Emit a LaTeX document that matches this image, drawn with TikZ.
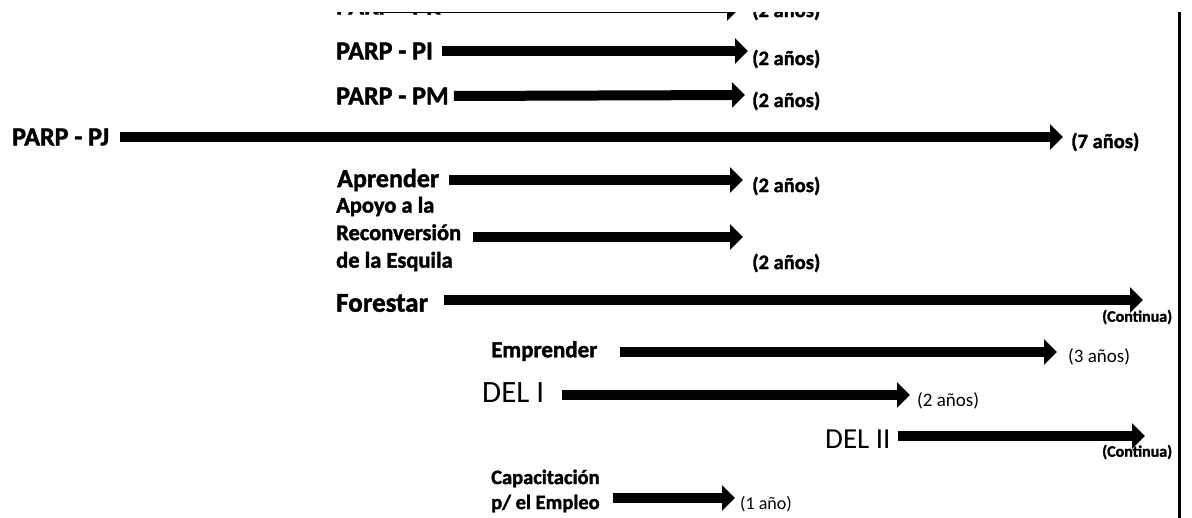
\documentclass[tikz,border=0pt]{standalone}
\usepackage{fontspec}
\setmainfont{Carlito}[BoldFeatures={FakeBold=1.6}]
\usetikzlibrary{arrows.meta}
\begin{document}
\begin{tikzpicture}[x=1pt,y=-1pt,
  arr/.style={line width=10pt,-{Triangle[length=13pt,width=25pt]}},
  lab/.style={anchor=west,inner sep=0pt,font=\fontsize{26}{27}\selectfont\bfseries},
  labm/.style={anchor=west,inner sep=0pt,align=left,font=\fontsize{22.5}{27.5}\selectfont\bfseries},
  labr/.style={anchor=west,inner sep=0pt,font=\fontsize{29}{29}\selectfont},
  dur/.style={anchor=west,inner sep=0pt,font=\fontsize{20.5}{20.5}\selectfont\bfseries},
  durr/.style={anchor=west,inner sep=0pt,font=\fontsize{19}{19}\selectfont},
  cont/.style={anchor=west,inner sep=0pt,font=\fontsize{16}{16}\selectfont\bfseries}]
\useasboundingbox (0,0) rectangle (1192,518);
\fill[white] (0,0) rectangle (1192,518);
\begin{scope}
\clip (0,13) rectangle (1192,518);
% top (cropped) row
\node[lab] (l0) at (336,6) {PARP - PR};
\coordinate (t0) at (740,8);
\draw[arr] (376,8) -- (t0);
\node[dur] (d0) at (752,11) {(2 años)};
\end{scope}
% PARP - PI
\node[lab] (l1) at (336,51) {PARP - PI};
\coordinate (t1) at (748,51);
\draw[arr] (l1.east) ++(9,0) -- (t1);
\node[dur] (d1) at (752,59) {(2 años)};
% PARP - PM
\node[lab] (l2) at (336,96) {PARP - PM};
\coordinate (t2) at (745,95);
\draw[arr] (l2.east) ++(5,0) -- (t2);
\node[dur] (d2) at (752,101) {(2 años)};
% PARP - PJ
\node[lab] (l3) at (12,137) {PARP - PJ};
\coordinate (t3) at (1063,137);
\draw[arr] (l3.east) ++(11,0) -- (t3);
\node[dur] (d3) at (1071,142) {(7 años)};
% Aprender
\node[lab] (l4) at (337,180) {Aprender};
\coordinate (t4) at (743,180);
\draw[arr] (l4.east) ++(10,0) -- (t4);
\node[dur] (d4) at (752,186) {(2 años)};
% Apoyo a la Reconversion
\node[labm] (l5) at (336,234) {Apoyo a la\\Reconversión\\de la Esquila};
\coordinate (s5) at (473,237);
\coordinate (t5) at (743,237);
\draw[arr] (s5) -- (t5);
\node[dur] (d5) at (752,263) {(2 años)};
% Forestar
\node[labr,font=\fontsize{27}{27}\selectfont\bfseries] (l6) at (336,303) {Forestar};
\coordinate (t6) at (1143,300);
\draw[arr] (l6.east) ++(16,-3) -- (t6);
\node[cont] (d6) at (1102,317) {(Continua)};
% Emprender
\node[lab,font=\fontsize{23}{23}\selectfont\bfseries] (l7) at (491,351) {Emprender};
\coordinate (t7) at (1057,352);
\draw[arr] (l7.east) ++(22,1) -- (t7);
\node[durr] (d7) at (1068,357) {(3 años)};
% DEL I
\node[labr,font=\fontsize{31}{31}\selectfont] (l8) at (482,393) {DEL I};
\coordinate (t8) at (910,395);
\draw[arr] (l8.east) ++(18,2) -- (t8);
\node[durr] (d8) at (917,401) {(2 años)};
% DEL II
\node[labr] (l9) at (825,439) {DEL II};
\coordinate (t9) at (1145,436);
\draw[arr] (l9.east) ++(7,-3) -- (t9);
\node[cont] (d9) at (1102,452) {(Continua)};
% Capacitacion
\node[labm,font=\fontsize{20.5}{25}\selectfont\bfseries] (l10) at (491,491) {Capacitación\\p/ el Empleo};
\coordinate (s10) at (613,498);
\coordinate (t10) at (735,498);
\draw[arr] (s10) -- (t10);
\node[durr,font=\fontsize{18}{18}\selectfont] (d10) at (740,504) {(1 año)};
% vertical line
\coordinate (vt) at (1179,12);
\coordinate (vb) at (1179,518);
\draw[line width=3pt] (vt) -- (vb);
\end{tikzpicture}
\end{document}
